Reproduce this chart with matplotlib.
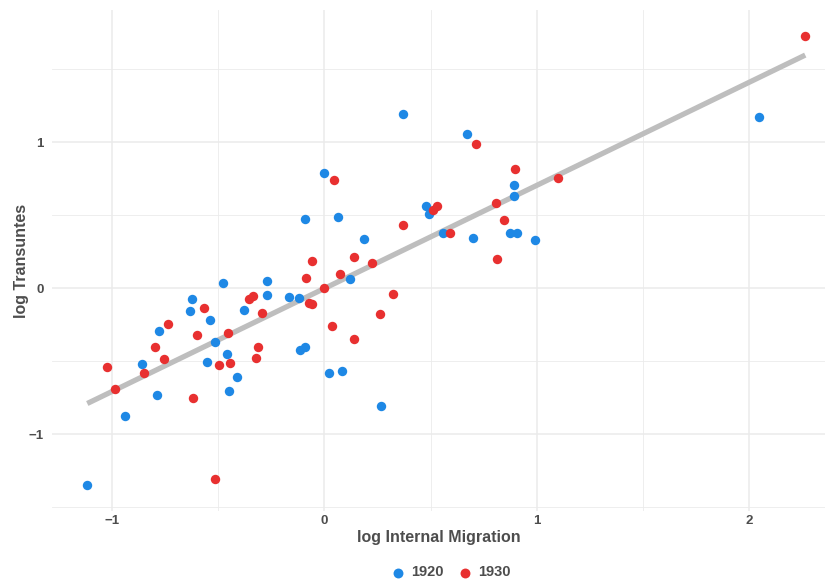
import numpy as np
import matplotlib
matplotlib.use("Agg")
import matplotlib.pyplot as plt
from matplotlib.ticker import MultipleLocator

# ---- data ----
x_1920 = [-1.116, -0.938, -0.786, -0.860, -0.778, -0.634, -0.621, -0.537, -0.478, -0.516,
          -0.554, -0.457, -0.450, -0.412, -0.378, -0.268, -0.268, -0.168, -0.121, -0.114,
          -0.091, -0.003, -0.089, 0.064, 0.187, 0.121, 0.022, 0.085, 0.266, 0.369,
          0.673, 0.893, 0.893, 0.479, 0.493, 0.559, 0.702, 0.873, 0.909, 0.994, 2.048]
y_1920 = [-1.349, -0.875, -0.735, -0.521, -0.295, -0.158, -0.077, -0.219, 0.032, -0.370,
          -0.509, -0.452, -0.703, -0.610, -0.151, 0.048, -0.050, -0.059, -0.068, -0.422,
          -0.402, 0.790, 0.470, 0.488, 0.338, 0.062, -0.584, -0.568, -0.806, 1.192,
          1.053, 0.708, 0.628, 0.562, 0.507, 0.375, 0.345, 0.377, 0.379, 0.329, 1.171]

x_1930 = [-1.025, -0.984, -0.849, -0.753, -0.796, -0.734, -0.601, -0.565, -0.617, -0.513,
          -0.497, -0.445, -0.452, -0.312, -0.320, -0.293, -0.353, -0.334, 0.046, -0.058,
          -0.086, 0.000, -0.073, -0.058, 0.074, 0.140, 0.226, 0.036, 0.140, 0.263,
          0.714, 0.898, 1.100, 0.512, 0.532, 0.810, 0.845, 0.593, 0.372, 0.813,
          0.325, 2.264]
y_1930 = [-0.539, -0.692, -0.580, -0.486, -0.406, -0.249, -0.324, -0.135, -0.751, -1.308,
          -0.527, -0.516, -0.310, -0.406, -0.477, -0.171, -0.073, -0.053, 0.742, 0.185,
          0.068, -0.002, -0.105, -0.110, 0.098, 0.214, 0.173, -0.258, -0.349, -0.179,
          0.984, 0.817, 0.755, 0.532, 0.562, 0.584, 0.466, 0.377, 0.432, 0.199,
          -0.041, 1.726]

series_labels = ["1920", "1930"]
x_ticks = [-1, 0, 1, 2]
y_ticks = [-1, 0, 1]

fam = "Liberation Sans"
plt.rcParams["font.family"] = [fam, "DejaVu Sans"]

BLUE = "#1E88E5"
RED = "#E83030"
TXT = "#4D4D4D"

fig = plt.figure(figsize=(8.29, 5.80), dpi=100)
ax = fig.add_axes([52 / 829, 1 - 511 / 580, (825 - 52) / 829, (511 - 10) / 580])

# regression line over all points
xa = np.array(x_1920 + x_1930)
ya = np.array(y_1920 + y_1930)
slope, icpt = np.polyfit(xa, ya, 1)
xl = np.array([xa.min(), xa.max()])
ax.plot(xl, icpt + slope * xl, color="#BEBEBE", lw=3.8, solid_capstyle="butt", zorder=2)

ax.scatter(x_1920, y_1920, s=46, color=BLUE, zorder=3, linewidths=0, label=series_labels[0])
ax.scatter(x_1930, y_1930, s=46, color=RED, zorder=3, linewidths=0, label=series_labels[1])

ax.set_xlim(-1.282, 2.357)
ax.set_ylim(-1.527, 1.904)
ax.set_xticks(x_ticks)
ax.set_yticks(y_ticks)
ax.set_xticklabels(["\u22121" if v < 0 else str(v) for v in x_ticks])
ax.set_yticklabels(["\u22121" if v < 0 else str(v) for v in y_ticks])
ax.xaxis.set_minor_locator(MultipleLocator(0.5))
ax.yaxis.set_minor_locator(MultipleLocator(0.5))
ax.grid(which="major", color="#EBEBEB", lw=1.1)
ax.grid(which="minor", color="#EBEBEB", lw=0.6)
ax.set_axisbelow(True)
for s in ax.spines.values():
    s.set_visible(False)
ax.tick_params(which="both", length=0)
ax.tick_params(axis="x", pad=3, labelsize=9.5, labelcolor=TXT)
ax.tick_params(axis="y", pad=6, labelsize=9.5, labelcolor=TXT)
for lab in ax.get_xticklabels() + ax.get_yticklabels():
    lab.set_fontweight("bold")

ax.set_xlabel("log Internal Migration", fontsize=11.5, fontweight="bold", color=TXT)
ax.set_ylabel("log Transuntes", fontsize=11.5, fontweight="bold", color=TXT)
ax.xaxis.set_label_coords(0.5, -(537 + 8 - 511) / 501)
ax.xaxis.label.set_va("bottom")
ax.yaxis.set_label_coords(-(52 - 29) / 773, 0.5)

leg = fig.legend(loc="center", bbox_to_anchor=(451 / 829, 1 - 572.5 / 580), ncol=2, frameon=False,
                 handlelength=0.9, handletextpad=0.45, columnspacing=1.0, markerscale=1.05,
                 borderpad=0.1,
                 prop={"weight": "bold", "size": 10.5, "family": [fam, "DejaVu Sans"]})
for t in leg.get_texts():
    t.set_color(TXT)

fig.savefig("out.png", dpi=100)
